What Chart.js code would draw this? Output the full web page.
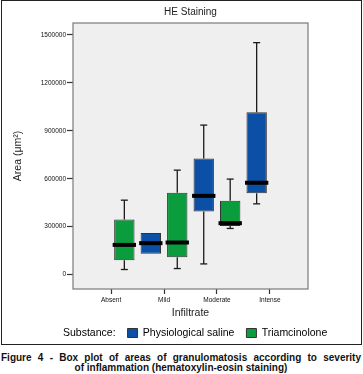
<!DOCTYPE html>
<html>
<head>
<meta charset="utf-8">
<script src="https://cdn.jsdelivr.net/npm/chart.js@4.4.0/dist/chart.umd.min.js"></script>
<style>
  html, body { margin: 0; padding: 0; background: #fff; }
  #wrap { position: relative; width: 363px; height: 374px; overflow: hidden; }
  #frame { position: absolute; left: 1px; top: 0; width: 361px; height: 345px; border: 1px solid #222; box-sizing: border-box; }
  #chart { position: absolute; left: 0; top: 0; }
  #cap { position: absolute; left: 1px; top: 353px; width: 360px; font: bold 10px 'Liberation Sans', Arial, sans-serif; line-height: 10px; color: #111; }
  #cap .l1 { text-align: justify; text-align-last: justify; }
  #cap .l2 { text-align: center; }
</style>
</head>
<body>
<div id="wrap">
  <div id="frame"></div>
  <canvas id="chart" width="363" height="350"></canvas>
  <div id="cap">
    <div class="l1">Figure 4 - Box plot of areas of granulomatosis according to severity</div>
    <div class="l2">of inflammation (hematoxylin-eosin staining)</div>
  </div>
</div>
<script>
// ===== DATOS =====
const categories = ['Absent', 'Mild', 'Moderate', 'Intense'];
const yTicks = [0, 300000, 600000, 900000, 1200000, 1500000];

// Physiological saline (sin datos en Absent)
const salineMin    = [null,  130000,  67000,  443000];
const salineQ1     = [null,  130000, 395000,  510000];
const salineMedian = [null,  197000, 493000,  575000];
const salineQ3     = [null,  261000, 727000, 1016000];
const salineMax    = [null,  261000, 936000, 1452000];

// Triamcinolone (sin datos en Intense)
const triamMin    = [ 32000,  38000, 289000, null];
const triamQ1     = [ 90000, 109000, 305000, null];
const triamMedian = [186000, 201000, 322000, null];
const triamQ3     = [345000, 512000, 462000, null];
const triamMax    = [466000, 654000, 598000, null];

const BLUE = '#0b4fa6';
const GREEN = '#0b9c3e';
const FONT = "'Liberation Sans', Arial, sans-serif";

function boxData(min, q1, med, q3, max) {
    const out = [];
    categories.forEach((c, i) => {
        if (q1[i] === null) return;
        out.push({ x: i, y: [q1[i], q3[i]], min: min[i], median: med[i], max: max[i] });
    });
    return out;
}

// ===== FONDO Y BORDE DEL ÁREA =====
const plotFrame = {
    id: 'plotFrame',
    beforeDraw(chart) {
        const { ctx, chartArea: a } = chart;
        ctx.save();
        ctx.fillStyle = '#efefef';
        ctx.fillRect(a.left, a.top, a.right - a.left, a.bottom - a.top);
        ctx.restore();
    },
    afterDatasetsDraw(chart) {
        const { ctx, chartArea: a } = chart;
        ctx.save();
        ctx.strokeStyle = '#7a7a7a';
        ctx.lineWidth = 1.2;
        ctx.strokeRect(a.left, a.top, a.right - a.left, a.bottom - a.top);
        ctx.restore();
    }
};

// ===== BIGOTES Y MEDIANAS =====
const whiskers = {
    id: 'whiskers',
    afterDatasetsDraw(chart) {
        const ctx = chart.ctx;
        const y = chart.scales.y;
        chart.data.datasets.forEach((ds, di) => {
            const meta = chart.getDatasetMeta(di);
            meta.data.forEach((bar, i) => {
                const d = ds.data[i];
                const x = bar.x;
                const half = bar.width / 2;
                ctx.save();
                ctx.strokeStyle = '#1a1a1a';
                ctx.lineWidth = 1.3;
                const seg = (x1, y1, x2, y2) => {
                    ctx.beginPath(); ctx.moveTo(x1, y1); ctx.lineTo(x2, y2); ctx.stroke();
                };
                if (d.max > d.y[1]) {
                    const yt = y.getPixelForValue(d.max);
                    seg(x, y.getPixelForValue(d.y[1]), x, yt);
                    seg(x - 3.5, yt, x + 3.5, yt);
                }
                if (d.min < d.y[0]) {
                    const yb = y.getPixelForValue(d.min);
                    seg(x, y.getPixelForValue(d.y[0]), x, yb);
                    seg(x - 3.5, yb, x + 3.5, yb);
                }
                ctx.strokeStyle = '#000';
                ctx.lineWidth = 4;
                const ym = y.getPixelForValue(d.median);
                seg(x - half - 1.5, ym, x + half + 1.5, ym);
                ctx.restore();
            });
        });
    }
};

new Chart(document.getElementById('chart'), {
    type: 'bar',
    data: {
        datasets: [{
            label: 'Physiological saline',
            data: boxData(salineMin, salineQ1, salineMedian, salineQ3, salineMax),
            backgroundColor: BLUE,
            borderColor: '#333',
            borderWidth: 1,
            borderSkipped: false
        }, {
            label: 'Triamcinolone',
            data: boxData(triamMin, triamQ1, triamMedian, triamQ3, triamMax),
            backgroundColor: GREEN,
            borderColor: '#333',
            borderWidth: 1,
            borderSkipped: false
        }]
    },
    options: {
        responsive: false,
        animation: false,
        barPercentage: 0.77,
        categoryPercentage: 1.0,
        layout: { padding: { left: 12, right: 0, top: 0, bottom: 1.75 } },
        scales: {
            x: {
                type: 'linear',
                min: -0.72,
                max: 3.72,
                offset: false,
                afterBuildTicks: (axis) => { axis.ticks = categories.map((c, i) => ({ value: i })); },
                afterFit: (axis) => { axis.height = 26.75; },
                ticks: {
                    callback: (v) => categories[v],
                    font: { family: FONT, size: 6.5 },
                    color: '#111',
                    padding: 2,
                    maxRotation: 0,
                    autoSkip: false
                },
                grid: { offset: false, drawOnChartArea: false, tickLength: 5, color: '#333', tickWidth: 1.2 },
                border: { display: false },
                title: {
                    display: true,
                    text: 'Infiltrate',
                    font: { family: FONT, size: 10.5 },
                    color: '#222',
                    padding: { top: 0, bottom: -3.5 }
                }
            },
            y: {
                min: -90000,
                max: 1575000,
                afterBuildTicks: (axis) => { axis.ticks = yTicks.map(v => ({ value: v })); },
                afterFit: (axis) => { axis.width = 61; },
                ticks: {
                    callback: (v) => String(v),
                    font: { family: FONT, size: 6.5 },
                    color: '#111',
                    padding: 1
                },
                grid: { drawOnChartArea: false, tickLength: 6, color: '#333', tickWidth: 1.2 },
                border: { display: false },
                title: {
                    display: true,
                    text: 'Area (μm²)',
                    font: { family: FONT, size: 10.5 },
                    color: '#222',
                    padding: { top: 0, bottom: 0 }
                }
            },
            yRight: {
                type: 'linear',
                position: 'right',
                ticks: { display: false },
                grid: { display: false },
                border: { display: false },
                afterFit: (axis) => { axis.width = 55; }
            }
        },
        plugins: {
            title: {
                display: true,
                text: 'HE Staining',
                fullSize: false,
                font: { family: FONT, size: 10, weight: 'normal' },
                color: '#222',
                padding: { top: 6, bottom: 5 }
            },
            legend: {
                position: 'bottom',
                onClick: null,
                labels: {
                    font: { family: FONT, size: 10.5 },
                    color: '#222',
                    boxWidth: 10,
                    boxHeight: 9,
                    padding: 12,
                    generateLabels: () => [
                        { text: 'Substance:', fillStyle: 'rgba(0,0,0,0)', strokeStyle: 'rgba(0,0,0,0)', lineWidth: 0, hidden: false },
                        { text: 'Physiological saline', fillStyle: BLUE, strokeStyle: '#333', lineWidth: 1, hidden: false, datasetIndex: 0 },
                        { text: 'Triamcinolone', fillStyle: GREEN, strokeStyle: '#333', lineWidth: 1, hidden: false, datasetIndex: 1 }
                    ]
                }
            },
            tooltip: { enabled: false }
        }
    },
    plugins: [plotFrame, whiskers]
});
</script>
</body>
</html>
